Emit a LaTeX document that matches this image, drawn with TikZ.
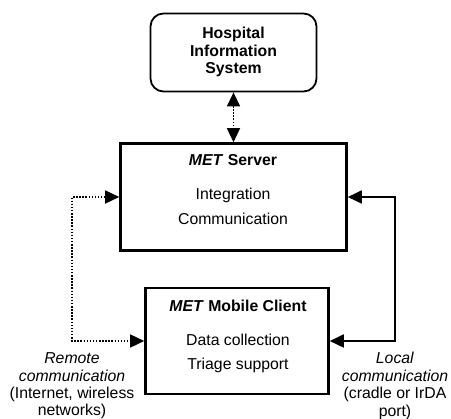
\documentclass[tikz,border=0pt]{standalone}
\usepackage{fontspec}
\setmainfont{Liberation Sans}
\usetikzlibrary{arrows.meta}
\begin{document}
\begin{tikzpicture}[x=1pt,y=-1pt,
  font=\fontsize{15.8}{17.4}\selectfont,
  box/.style={draw, line width=2.6pt, inner sep=0pt, minimum width=#1},
  hisbox/.style={draw, line width=1.8pt, rounded corners=13pt, inner sep=0pt},
  txt/.style={inner sep=0pt, align=center},
  link/.style={line width=1.8pt, {Triangle[length=14pt,width=13pt]}-{Triangle[length=14pt,width=13pt]}},
  dotlink/.style={link, line width=1.5pt, dash pattern=on 1.5pt off 1.6pt}
]
\useasboundingbox (0,0) rectangle (451,419);

% Boxes
\node[hisbox, minimum width=166pt, minimum height=78pt] (his) at (233.5,52.5) {};
\node[box=226pt, minimum height=107pt] (server) at (233.5,197) {};
\node[box=183pt, minimum height=106pt] (client) at (237,341) {};

% Box texts
\node[txt, font=\fontsize{15.8}{17.6}\selectfont\bfseries] (histxt) at (233.5,52) {Hospital\\Information\\System};
\node[txt] (srvtitle) at (233,160) {\textbf{\textit{MET} Server}};
\node[txt] (srvint) at (233,195) {Integration};
\node[txt] (srvcom) at (233,219) {Communication};
\node[txt] (clititle) at (238,306) {\textbf{\textit{MET} Mobile Client}};
\node[txt] (clidata) at (238,340) {Data collection};
\node[txt] (clitri) at (238,365) {Triage support};

% Side labels
\node[txt] (remote) at (72,386) {\textit{Remote}\\\textit{communication}\\(Internet, wireless\\networks)};
\node[txt] (local) at (395,386) {\textit{Local}\\\textit{communication}\\(cradle or IrDA\\port)};

% Connectors
\coordinate (lc) at (72,197);
\coordinate (rc) at (395,197);
\draw[dotlink] (his.south) -- (server.north);
\draw[dotlink] (server.west) -- (lc) |- (client.west);
\draw[link] (server.east) -- (rc) |- (client.east);
\end{tikzpicture}
\end{document}
